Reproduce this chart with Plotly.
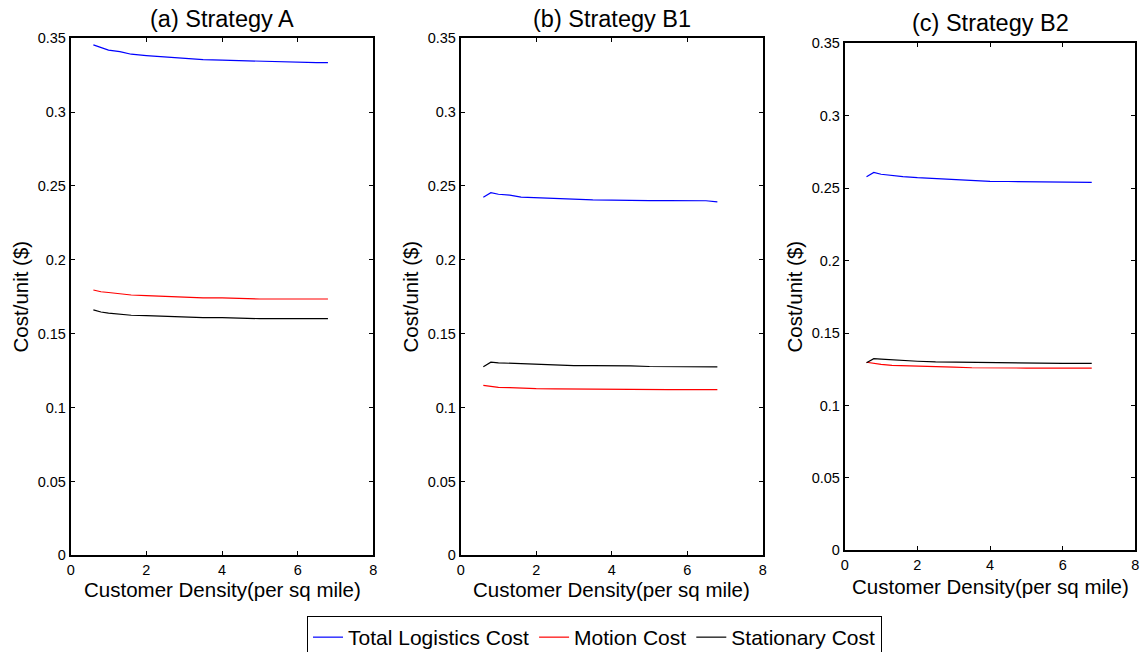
import plotly.graph_objects as go

# Customer density (per sq mile) at which each strategy was evaluated
density = [0.6, 0.8, 1.0, 1.3, 1.6, 2.0, 2.5, 3.0, 3.5, 4.0, 4.5, 5.0, 5.5, 6.0, 6.5, 6.8]

# Strategy A costs ($/unit)
a_total = [0.3455, 0.3435, 0.3420, 0.3410, 0.3392, 0.3383, 0.3373, 0.3363,
           0.3356, 0.3352, 0.3348, 0.3342, 0.3339, 0.3336, 0.3335, 0.3335]
a_motion = [0.1796, 0.1784, 0.1779, 0.1770, 0.1762, 0.1758, 0.1752, 0.1745,
            0.1743, 0.1742, 0.1736, 0.1735, 0.1735, 0.1735, 0.1735, 0.1735]
a_stationary = [0.1661, 0.1647, 0.1640, 0.1632, 0.1625, 0.1622, 0.1617, 0.1610,
                0.1609, 0.1609, 0.1604, 0.1602, 0.1602, 0.1602, 0.1602, 0.1602]

# Strategy B1 costs ($/unit)
b1_total = [0.2424, 0.2455, 0.2444, 0.2438, 0.2425, 0.2420, 0.2414, 0.2408,
            0.2406, 0.2405, 0.2401, 0.2401, 0.2401, 0.2401, 0.2400, 0.2392]
b1_motion = [0.1151, 0.1145, 0.1137, 0.1135, 0.1131, 0.1128, 0.1127, 0.1126,
             0.1122, 0.1122, 0.1122, 0.1122, 0.1122, 0.1122, 0.1122, 0.1122]
b1_stationary = [0.1277, 0.1307, 0.1303, 0.1300, 0.1293, 0.1290, 0.1286, 0.1284,
                 0.1284, 0.1284, 0.1283, 0.1278, 0.1276, 0.1275, 0.1275, 0.1275]

# Strategy B2 costs ($/unit)
b2_total = [0.2579, 0.2609, 0.2596, 0.2586, 0.2580, 0.2572, 0.2565, 0.2556,
            0.2553, 0.2547, 0.2546, 0.2545, 0.2540, 0.2540, 0.2540, 0.2540]
b2_motion = [0.1298, 0.1290, 0.1283, 0.1277, 0.1274, 0.1270, 0.1267, 0.1264,
             0.1260, 0.1258, 0.1258, 0.1258, 0.1258, 0.1258, 0.1258, 0.1258]
b2_stationary = [0.1295, 0.1323, 0.1320, 0.1314, 0.1308, 0.1305, 0.1300, 0.1298,
                 0.1297, 0.1294, 0.1292, 0.1291, 0.1291, 0.1291, 0.1291, 0.1291]

panel_titles = ["(a) Strategy A", "(b) Strategy B1", "(c) Strategy B2"]
series_names = ["Total Logistics Cost", "Motion Cost", "Stationary Cost"]
series_colors = ["#0000ff", "#ff0000", "#000000"]
x_title = "Customer Density(per sq mile)"
y_title = "Cost/unit ($)"
x_ticks = [0, 2, 4, 6, 8]
y_ticks = [0, 0.05, 0.1, 0.15, 0.2, 0.25, 0.3, 0.35]
y_tick_text = ["0", "0.05", "0.1", "0.15", "0.2", "0.25", "0.3", "0.35"]

panels = [
    (a_total, a_motion, a_stationary),
    (b1_total, b1_motion, b1_stationary),
    (b2_total, b2_motion, b2_stationary),
]

W, H = 1140, 652
# Plot-area placement (paper fractions) for the three panels
x_domains = [[0.0620, 0.3275], [0.4041, 0.6690], [0.7410, 0.9959]]
y_domains = [[0.1483, 0.9413], [0.1483, 0.9413], [0.1560, 0.9336]]
# Vertical centres (px from top) of each panel's title and x-axis title
title_centres = [18.5, 18.5, 23.5]
xtitle_centres = [589.5, 589.5, 586.0]

FONT = "Liberation Sans, Arial, sans-serif"

fig = go.Figure()
for i, data in enumerate(panels):
    suffix = "" if i == 0 else str(i + 1)
    for j, values in enumerate(data):
        fig.add_trace(go.Scatter(
            x=density, y=values, mode="lines",
            name=series_names[j],
            line=dict(color=series_colors[j], width=1.2),
            xaxis="x" + suffix, yaxis="y" + suffix,
            showlegend=(i == 0),
        ))

axis_common = dict(
    showline=True, linecolor="black", linewidth=1.8, mirror="ticks",
    ticks="inside", ticklen=4, tickwidth=1, tickcolor="black",
    showgrid=False, zeroline=False,
    tickfont=dict(family=FONT, size=14.5, color="black"),
)

layout = dict(
    width=W, height=H,
    margin=dict(l=0, r=0, t=0, b=0, autoexpand=False),
    paper_bgcolor="white", plot_bgcolor="white",
    font=dict(family=FONT, color="black"),
    showlegend=True,
    legend=dict(
        orientation="h", x=0.5215, xanchor="center", y=1 - 616 / H, yanchor="top",
        bordercolor="black", borderwidth=1, bgcolor="white",
        font=dict(family=FONT, size=21, color="black"),
    ),
    annotations=[],
)

for i in range(3):
    suffix = "" if i == 0 else str(i + 1)
    layout["xaxis" + suffix] = dict(
        axis_common, domain=x_domains[i], range=[0, 8], tickvals=x_ticks,
        anchor="y" + suffix,
    )
    layout["yaxis" + suffix] = dict(
        axis_common, domain=y_domains[i], range=[0, 0.35],
        tickvals=y_ticks, ticktext=y_tick_text, anchor="x" + suffix,
    )
    xc = sum(x_domains[i]) / 2
    yc = sum(y_domains[i]) / 2
    layout["annotations"] += [
        dict(text=panel_titles[i], showarrow=False, xref="paper", yref="paper",
             x=xc, y=1 - title_centres[i] / H, xanchor="center", yanchor="middle",
             font=dict(family=FONT, size=23.5, color="black")),
        dict(text=x_title, showarrow=False, xref="paper", yref="paper",
             x=xc, y=1 - xtitle_centres[i] / H, xanchor="center", yanchor="middle",
             font=dict(family=FONT, size=20.5, color="black")),
        dict(text=y_title, showarrow=False, xref="paper", yref="paper",
             x=x_domains[i][0], xshift=-50, y=yc, textangle=-90,
             xanchor="center", yanchor="middle",
             font=dict(family=FONT, size=20.5, color="black")),
    ]

fig.update_layout(layout)
fig.write_html("out.html")
